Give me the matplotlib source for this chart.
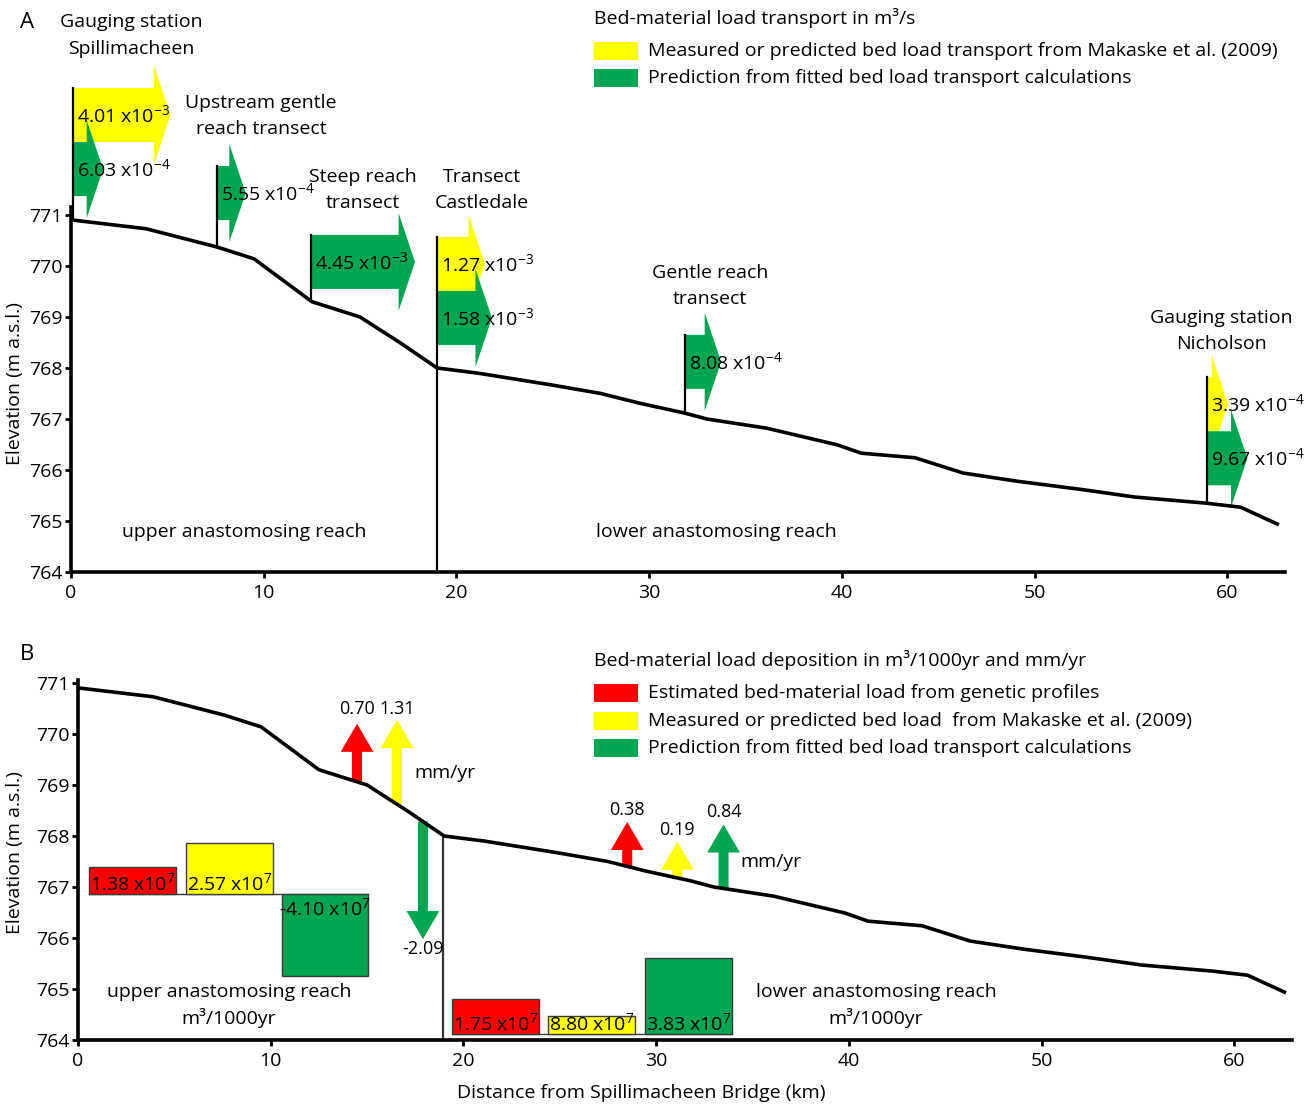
import numpy as np
import matplotlib
matplotlib.use("Agg")
import matplotlib.pyplot as plt
from matplotlib.patches import Polygon, Rectangle

plt.rcParams['font.family'] = ['Open Sans', 'DejaVu Sans']
plt.rcParams['mathtext.default'] = 'regular'
plt.rcParams['font.size'] = 14

# Longitudinal river profile: distance (km) and channel elevation (m a.s.l.)
profile_km = [0.1, 3.9, 7.6, 9.5, 12.5, 15.0, 17.1, 19.0, 21.1, 24.9, 27.5, 29.5,
              31.8, 33.0, 36.1, 39.8, 41.0, 43.8, 46.3, 49.1, 52.4, 55.2, 58.9, 60.7, 62.6]
profile_elev = [770.90, 770.73, 770.37, 770.14, 769.30, 769.00, 768.49, 768.00, 767.90,
                767.67, 767.50, 767.31, 767.12, 767.00, 766.82, 766.49, 766.33, 766.24,
                765.94, 765.78, 765.62, 765.47, 765.35, 765.27, 764.94]

# Panel A: bed-material load transport (m3/s) at the measuring sites
station_names = ["Gauging station\nSpillimacheen", "Upstream gentle\nreach transect",
                 "Steep reach\ntransect", "Transect\nCastledale",
                 "Gentle reach\ntransect", "Gauging station\nNicholson"]
station_km = [0.1, 7.58, 12.45, 19.0, 31.86, 58.95]
transport_measured = [4.01e-3, np.nan, np.nan, 1.27e-3, np.nan, 3.39e-4]
transport_fitted = [6.03e-4, 5.55e-4, 4.45e-3, 1.58e-3, 8.08e-4, 9.67e-4]

# Panel B: bed-material deposition per reach (m3/1000yr):
# estimated from genetic profiles, Makaske et al. (2009), fitted calculations
reach_names = ["upper anastomosing reach", "lower anastomosing reach"]
deposition_upper = [1.38e7, 2.57e7, -4.10e7]
deposition_lower = [1.75e7, 8.80e6, 3.83e7]
deposition_labels_upper = ["1.38 x10$^7$", "2.57 x10$^7$", "-4.10 x10$^7$"]
deposition_labels_lower = ["1.75 x10$^7$", "8.80 x10$^7$", "3.83 x10$^7$"]

# Panel B: aggradation rates (mm/yr) and the distance where each is shown
rate_upper = [0.70, 1.31, -2.09]
rate_lower = [0.38, 0.19, 0.84]
rate_km_upper = [14.48, 16.55, 17.9]
rate_km_lower = [28.5, 31.1, 33.5]

RED, YELLOW, GREEN = '#ff0000', '#ffff00', '#00a651'
W, H = 1314, 1106
XMAX = 63.0
KM_PX = 19.27
M_PX = 51.0

fig = plt.figure(figsize=(W / 100, H / 100), dpi=100)


def rect(left, top, bottom):
    right = left + XMAX * KM_PX
    return [left / W, 1 - bottom / H, (right - left) / W, (bottom - top) / H]


def profile_at(km):
    return float(np.interp(km, profile_km, profile_elev))


def style_axes(ax, top_px, bottom_px, spine_top):
    ax.set_xlim(0, XMAX)
    ax.set_ylim(764, 764 + (bottom_px - top_px) / M_PX)
    for s in ('top', 'right'):
        ax.spines[s].set_visible(False)
    for s in ('left', 'bottom'):
        ax.spines[s].set_linewidth(2.6)
    ax.spines['left'].set_bounds(764, spine_top)
    ax.spines['bottom'].set_bounds(0, XMAX)
    ax.set_yticks(range(764, 772))
    ax.set_xticks(range(0, 61, 10))
    ax.tick_params(direction='out', length=4, width=2, labelsize=14)
    ax.tick_params(axis='x', pad=5)
    ax.tick_params(axis='y', pad=2)
    ax.patch.set_alpha(0)
    ax.plot(profile_km, profile_elev, color='black', lw=2.6, solid_joinstyle='round',
            zorder=3)


def sci_label(v):
    e = int(np.floor(np.log10(v)))
    return f"{v / 10 ** e:.2f} x10$^{{{e}}}$"


# ---------------- Panel A ----------------
axA = fig.add_axes(rect(71, 0, 572))
style_axes(axA, 0, 572, 771.16)

BODY_H, HEAD_H, HEAD_L = 1.06, 1.92, 0.85


def h_arrow(ax, x0, ytop, value, color):
    length = 5.4 * (value / 4.45e-3) ** 0.62
    yc = ytop - BODY_H / 2
    xb = x0 + max(length - HEAD_L, 0.0)
    pts = [(x0, ytop), (xb, ytop), (xb, yc + HEAD_H / 2), (x0 + length, yc),
           (xb, yc - HEAD_H / 2), (xb, ytop - BODY_H), (x0, ytop - BODY_H)]
    ax.add_patch(Polygon(pts, closed=True, facecolor=color, edgecolor='none', zorder=2))
    ax.text(x0 + 0.2, yc, sci_label(value), ha='left', va='center', fontsize=14, zorder=5)


arrow_top = [773.49, 771.96, 770.61, 770.57, 768.65, 767.82]
for i, km in enumerate(station_km):
    top = arrow_top[i]
    if not np.isnan(transport_measured[i]):
        h_arrow(axA, km, top, transport_measured[i], YELLOW)
        top_fit = top - BODY_H
    else:
        top_fit = top
    h_arrow(axA, km, top_fit, transport_fitted[i], GREEN)
    post_bottom = 764 if station_names[i].startswith("Transect") else profile_at(km)
    axA.plot([km, km], [top, post_bottom], color='black', lw=1.6, zorder=4)

name_pos = [(3.11, 774.52), (9.86, 772.94), (15.15, 771.49), (21.33, 771.49),
            (33.16, 769.61), (59.68, 768.73)]
for name, (x, y) in zip(station_names, name_pos):
    axA.text(x, y, name, ha='center', va='center', fontsize=14, linespacing=1.6)

axA.text(8.98, 764.78, reach_names[0], ha='center', va='center', fontsize=14)
axA.text(33.47, 764.78, reach_names[1], ha='center', va='center', fontsize=14)

# ---------------- Panel B ----------------
axB = fig.add_axes(rect(78, 602, 1040))
style_axes(axB, 602, 1040, 771.05)

M_PER_1E7 = 0.39
BAR_W = 4.5
BAR_EDGE = '#3a3a3a'


def draw_bars(ax, lefts, base, values, labels):
    ax.plot([lefts[0], lefts[-1] + BAR_W], [base, base], color=BAR_EDGE, lw=1.0, zorder=2)
    for left, v, lab, c in zip(lefts, values, labels, (RED, YELLOW, GREEN)):
        h = v / 1e7 * M_PER_1E7
        ax.add_patch(Rectangle((left, base), BAR_W, h, facecolor=c,
                               edgecolor=BAR_EDGE, lw=1.0, zorder=2))
        if v >= 0:
            ax.text(left + BAR_W / 2, base + 0.0, lab, ha='center', va='bottom',
                    fontsize=14, zorder=5)
        else:
            ax.text(left + BAR_W / 2, base - 0.06, lab, ha='center', va='top',
                    fontsize=14, zorder=5)


draw_bars(axB, [0.57, 5.6, 10.57], 766.86, deposition_upper, deposition_labels_upper)
draw_bars(axB, [19.41, 24.39, 29.42], 764.12, deposition_lower, deposition_labels_lower)

SHAFT_HW, HEAD_HW, HEAD_LEN = 0.26, 0.85, 0.55


def v_arrow(ax, km, rate, color):
    y0 = profile_at(km)
    s = 1 if rate >= 0 else -1
    length = HEAD_LEN + 0.84 * abs(rate)
    yb = y0 + s * (length - HEAD_LEN)
    tip = y0 + s * length
    pts = [(km - SHAFT_HW, y0), (km - SHAFT_HW, yb), (km - HEAD_HW, yb), (km, tip),
           (km + HEAD_HW, yb), (km + SHAFT_HW, yb), (km + SHAFT_HW, y0)]
    ax.add_patch(Polygon(pts, closed=True, facecolor=color, edgecolor='none', zorder=2))
    return tip


tips = [v_arrow(axB, km, r, c)
        for km, r, c in zip(rate_km_upper, rate_upper, (RED, YELLOW, GREEN))]
# the two upward rates of the upper reach share one label row
row = max(tips[:2]) + 0.03
for km, r in zip(rate_km_upper[:2], rate_upper[:2]):
    axB.text(km, row, f"{r:.2f}", ha='center', va='bottom', fontsize=13)
axB.text(rate_km_upper[2], tips[2] - 0.2, f"{rate_upper[2]:.2f}", ha='center', va='center',
         fontsize=13)
for km, r, c in zip(rate_km_lower, rate_lower, (RED, YELLOW, GREEN)):
    tip = v_arrow(axB, km, r, c)
    axB.text(km, tip + 0.24, f"{r:.2f}", ha='center', va='center', fontsize=13)

axB.text(19.04, 769.24, "mm/yr", ha='center', va='center', fontsize=14)
axB.text(35.96, 767.49, "mm/yr", ha='center', va='center', fontsize=14)

# reach boundary at Castledale
axB.plot([18.95, 18.95], [profile_at(18.95), 764], color='#333333', lw=1.6, zorder=1)

axB.text(7.84, 764.94, reach_names[0], ha='center', va='center', fontsize=14)
axB.text(7.84, 764.43, "m³/1000yr", ha='center', va='center', fontsize=14)
axB.text(41.41, 764.94, reach_names[1], ha='center', va='center', fontsize=14)
axB.text(41.41, 764.43, "m³/1000yr", ha='center', va='center', fontsize=14)

# ---------------- labels and legends ----------------
def ftext(x, y, s, **kw):
    fig.text(x / W, 1 - y / H, s, **kw)


ftext(27, 22, "A", fontsize=16, ha='center', va='center')
ftext(27, 655, "B", fontsize=16, ha='center', va='center')
ftext(15, 384, "Elevation (m a.s.l.)", rotation=90, ha='center', va='center', fontsize=14)
ftext(15, 853, "Elevation (m a.s.l.)", rotation=90, ha='center', va='center', fontsize=14)
ftext(641, 1093, "Distance from Spillimacheen Bridge (km)", ha='center', va='center',
      fontsize=14)


def legend_block(title, y_title, entries, ys):
    ftext(594, y_title, title, ha='left', va='center', fontsize=14)
    for (color, label), y in zip(entries, ys):
        fig.add_artist(Rectangle((594 / W, 1 - (y + 9) / H), 44 / W, 18 / H,
                                 transform=fig.transFigure, facecolor=color,
                                 edgecolor='none'))
        ftext(648, y, label, ha='left', va='center', fontsize=14)


legend_block("Bed-material load transport in m³/s", 18,
             [(YELLOW, "Measured or predicted bed load transport from Makaske et al. (2009)"),
              (GREEN, "Prediction from fitted bed load transport calculations")],
             [51, 78])
legend_block("Bed-material load deposition in m³/1000yr and mm/yr", 660,
             [(RED, "Estimated bed-material load from genetic profiles"),
              (YELLOW, "Measured or predicted bed load  from Makaske et al. (2009)"),
              (GREEN, "Prediction from fitted bed load transport calculations")],
             [693, 721, 748])

fig.savefig("out.png", dpi=100)
